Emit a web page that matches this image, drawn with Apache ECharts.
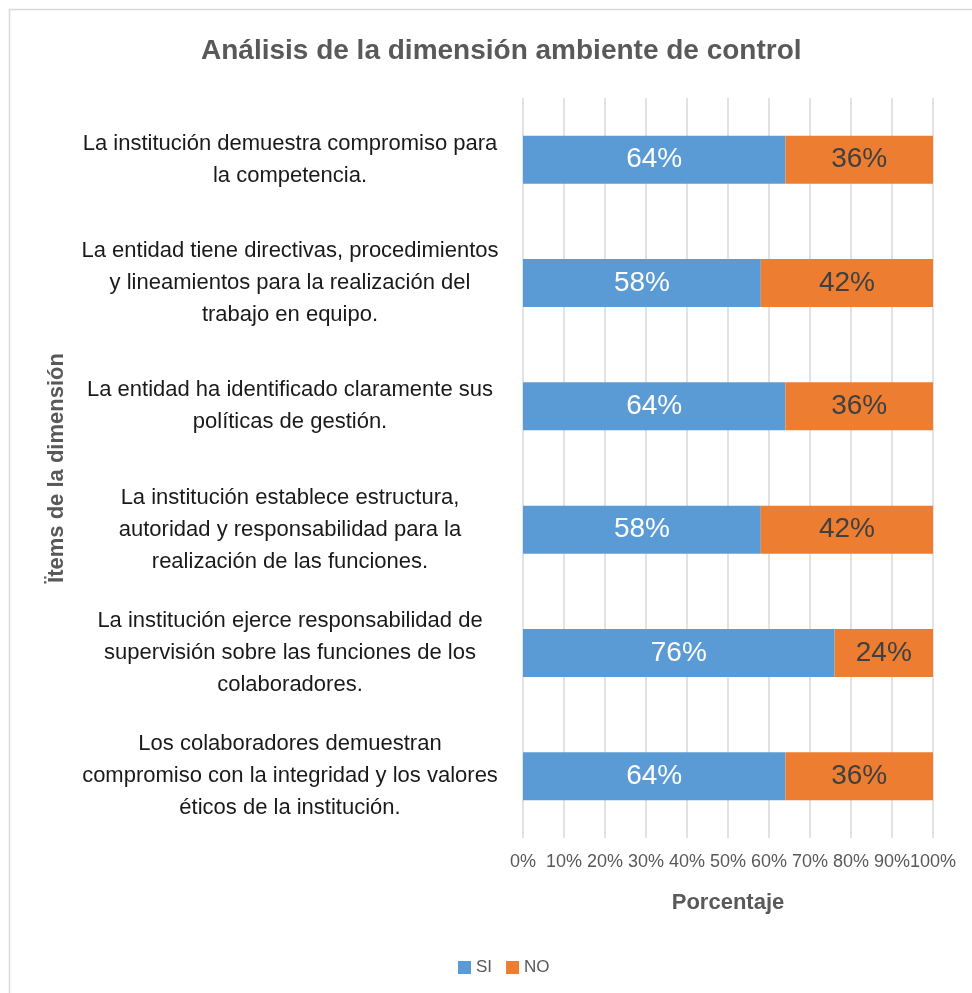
<!DOCTYPE html>
<html>
<head>
<meta charset="utf-8">
<script src="https://cdn.jsdelivr.net/npm/echarts@6/dist/echarts.min.js"></script>
<style>
  html, body { margin: 0; padding: 0; background: #fff; }
  #chart { width: 972px; height: 993px; }
</style>
</head>
<body>
<div id="chart"></div>
<script>
const FONT = "'Liberation Sans Narrow', 'Liberation Sans', sans-serif";

const categories = [
  'La institución demuestra compromiso para\nla competencia.',
  'La entidad tiene directivas, procedimientos\ny lineamientos para la realización del\ntrabajo en equipo.',
  'La entidad ha identificado claramente sus\npolíticas de gestión.',
  'La institución establece estructura,\nautoridad y responsabilidad para la\nrealización de las funciones.',
  'La institución ejerce responsabilidad de\nsupervisión sobre las funciones de los\ncolaboradores.',
  'Los colaboradores demuestran\ncompromiso con la integridad y los valores\néticos de la institución.'
];
const siValues = [64, 58, 64, 58, 76, 64];
const noValues = [36, 42, 36, 42, 24, 36];

const chart = echarts.init(document.getElementById('chart'), null, { renderer: 'canvas' });

chart.setOption({
  animation: false,
  backgroundColor: '#fff',
  textStyle: { fontFamily: FONT },
  graphic: [{
    type: 'rect',
    shape: { x: 9.5, y: 9.5, width: 1000, height: 1000 },
    style: { fill: 'none', stroke: '#d9d9d9', lineWidth: 1.5 },
    silent: true
  }],
  title: {
    text: 'Análisis de la dimensión ambiente de control',
    left: 196,
    top: 32,
    textStyle: { color: '#595959', fontSize: 28, fontWeight: 'bold', fontFamily: FONT }
  },
  legend: {
    data: ['SI', 'NO'],
    bottom: 12,
    left: 453,
    itemWidth: 13,
    itemHeight: 13,
    itemGap: 14,
    icon: 'rect',
    textStyle: { color: '#595959', fontSize: 17, fontFamily: FONT }
  },
  grid: { left: 523, right: 39, top: 98, bottom: 155, containLabel: false },
  xAxis: {
    type: 'value',
    min: 0,
    max: 100,
    interval: 10,
    name: 'Porcentaje',
    nameLocation: 'center',
    nameGap: 54,
    nameTextStyle: { color: '#595959', fontSize: 22, fontWeight: 'bold', fontFamily: FONT },
    axisLine: { show: false },
    axisTick: { show: false },
    axisLabel: {
      color: '#595959', fontSize: 18, margin: 15, formatter: '{value}%', fontFamily: FONT,
      showMinLabel: true, showMaxLabel: true, hideOverlap: false
    },
    splitLine: { lineStyle: { color: '#d9d9d9', width: 1.5 } }
  },
  yAxis: {
    type: 'category',
    data: categories,
    inverse: true,
    name: 'Ïtems de la dimensión',
    nameLocation: 'center',
    nameRotate: 90,
    nameGap: 455,
    nameTextStyle: { color: '#595959', fontSize: 22, fontWeight: 'bold', fontFamily: FONT },
    axisLine: { show: false },
    axisTick: { show: false },
    axisLabel: {
      color: '#1a1a1a',
      fontSize: 22,
      lineHeight: 32,
      align: 'center',
      margin: 233,
      fontFamily: FONT
    }
  },
  series: [
    {
      name: 'SI',
      type: 'bar',
      stack: 'total',
      barWidth: 48,
      data: siValues,
      itemStyle: { color: '#5b9bd5' },
      label: { show: true, position: 'inside', formatter: '{c}%', color: '#fff', fontSize: 28, fontFamily: FONT }
    },
    {
      name: 'NO',
      type: 'bar',
      stack: 'total',
      barWidth: 48,
      data: noValues,
      itemStyle: { color: '#ed7d31' },
      label: { show: true, position: 'inside', formatter: '{c}%', color: '#404040', fontSize: 28, fontFamily: FONT }
    }
  ]
});
</script>
</body>
</html>
